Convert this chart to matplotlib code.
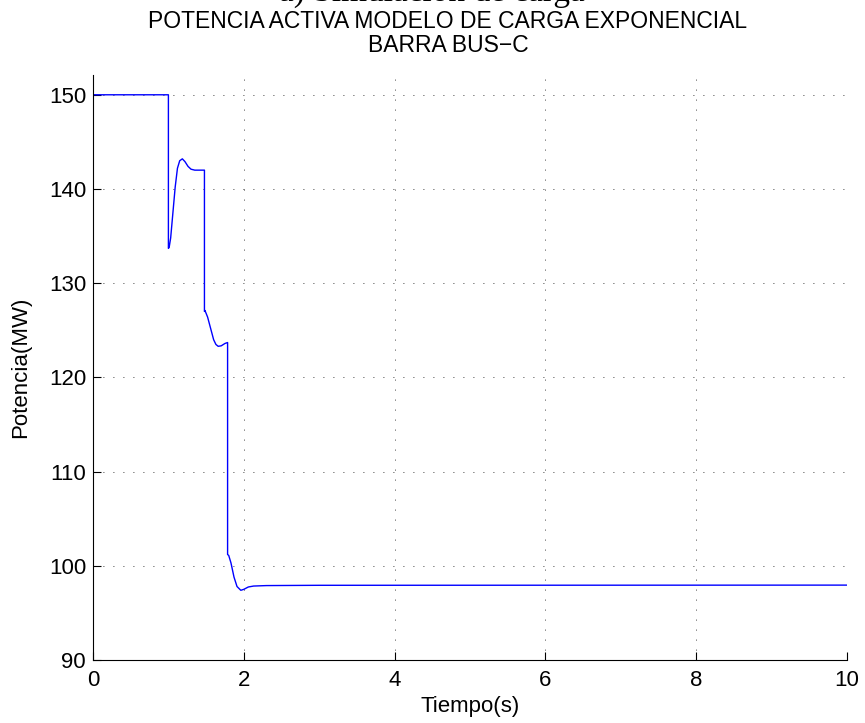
import matplotlib
matplotlib.use('Agg')
import matplotlib.pyplot as plt

plt.rcParams['font.family'] = ['Liberation Sans', 'DejaVu Sans']

# values
tiempo = [0.0, 1.0, 1.0, 1.01, 1.03, 1.06, 1.09, 1.12, 1.15, 1.185, 1.22, 1.26, 1.30, 1.35, 1.478,
          1.478, 1.485, 1.495, 1.52, 1.56, 1.60, 1.63, 1.66, 1.70, 1.75, 1.785,
          1.785, 1.80, 1.83, 1.87, 1.91, 1.96, 2.00, 2.06, 2.13, 2.3, 3.0, 10.0]
potencia = [150.0, 150.0, 133.7, 133.8, 134.8, 137.5, 140.2, 142.2, 143.0, 143.2, 142.9, 142.4, 142.1, 142.0, 142.0,
            127.0, 127.1, 126.9, 126.4, 125.2, 124.0, 123.5, 123.3, 123.35, 123.6, 123.7,
            101.2, 101.1, 100.3, 98.8, 97.8, 97.4, 97.5, 97.75, 97.85, 97.9, 97.93, 97.95]
xticks = [0, 2, 4, 6, 8, 10]
yticks = [90, 100, 110, 120, 130, 140, 150]

fig = plt.figure(figsize=(8.65, 7.23), dpi=100)
ax = fig.add_axes([93/865, 1-660/723, (847-93)/865, (660-75)/723])

ax.plot(tiempo, potencia, color='#0000ff', lw=1.0)
ax.set_xlim(0, 10)
ax.set_ylim(90, 152.1)
ax.set_xticks(xticks)
ax.set_yticks(yticks)
ax.grid(True, color='black', linestyle=(0, (1, 11)), linewidth=0.6)
ax.spines['top'].set_visible(False)
ax.spines['right'].set_visible(False)
ax.tick_params(direction='in', length=6, labelsize=16)
ax.tick_params(axis='x', pad=7)
ax.tick_params(axis='y', pad=5)

ax.set_xlabel('Tiempo(s)', fontsize=16, labelpad=4)
ax.set_ylabel('Potencia(MW)', fontsize=16, labelpad=13)

fig.text(448/865, 1-52/723, 'POTENCIA ACTIVA MODELO DE CARGA EXPONENCIAL\nBARRA BUS\u2212C',
         ha='center', va='baseline', fontsize=16.5, linespacing=1.05)
# caption that is cut off at the top edge
fig.text(432/865, 1-1/723, 'a) Simulación de carga', ha='center', va='baseline',
         fontsize=24, family=['Liberation Serif'])

fig.savefig('out.png', dpi=100)
